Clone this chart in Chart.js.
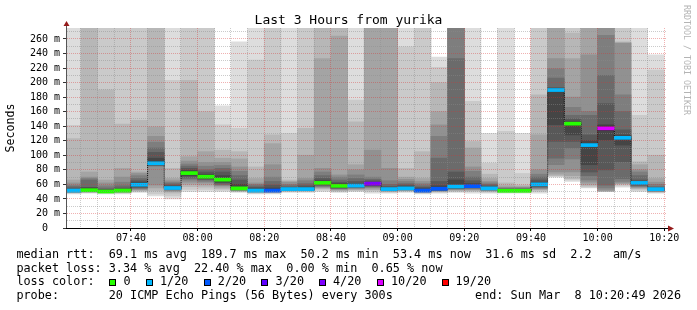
<!DOCTYPE html>
<html>
<head>
<meta charset="utf-8">
<script src="https://cdn.jsdelivr.net/npm/chart.js@4.4.1/dist/chart.umd.min.js"></script>
<style>
  body { margin: 0; background: #fff; }
  #wrap { position: relative; width: 697px; height: 310px; font-family: 'DejaVu Sans Mono', monospace; overflow: hidden; }
  #wrap canvas { position: absolute; left: 0; top: 0; }
  .t { position: absolute; white-space: pre; line-height: 1; color: #000; }
  .leg { font-size: 11.8px; }
  .box { position: absolute; width: 5px; height: 5px; border: 1px solid #000; top: 279px; }
  #rrd { writing-mode: vertical-rl; font-size: 8.3px; line-height: 9px; color: #b4b4b4; left: 682px; top: 5px; }
</style>
</head>
<body>
<div id="wrap">
  <canvas id="grafico" width="697" height="310"></canvas>
  <div class="t" style="left:0;width:697px;text-align:center;top:13px;font-size:13px">Last 3 Hours from yurika</div>
  <div class="t" id="rrd">RRDTOOL / TOBI OETIKER</div>

  <div class="t leg" style="left:16.4px;top:248.7px">median rtt:  69.1 ms avg  189.7 ms max  50.2 ms min  53.4 ms now  31.6 ms sd  2.2   am/s</div>
  <div class="t leg" style="left:16.4px;top:262.5px">packet loss: 3.34 % avg  22.40 % max  0.00 % min  0.65 % now</div>
  <div class="t leg" style="left:16.4px;top:276.2px">loss color:</div>
  <div id="lossLegend"></div>
  <div class="t leg" style="left:16.4px;top:290px">probe:       20 ICMP Echo Pings (56 Bytes) every 300s</div>
  <div class="t leg" style="right:16px;top:290px">end: Sun Mar  8 10:20:49 2026</div>
</div>

<script>
// --- dados (SmokePing, 20 pings a cada 300s) ---

// fim de cada intervalo de 5 minutos
const slotEnd = ['07:25', '07:30', '07:35', '07:40', '07:45', '07:50', '07:55', '08:00', '08:05', '08:10',
                 '08:15', '08:20', '08:25', '08:30', '08:35', '08:40', '08:45', '08:50', '08:55', '09:00',
                 '09:05', '09:10', '09:15', '09:20', '09:25', '09:30', '09:35', '09:40', '09:45', '09:50',
                 '09:55', '10:00', '10:05', '10:10', '10:15', '10:20'];

// pings ordenados (ms), do menor (ping01) ao maior (ping20)
const ping01 = [47, 48, 47, 47, 49, 44, 40, 50, 50, 50, 49, 47, 47, 49, 49, 50, 49, 50, 48, 48, 49, 47, 48, 49, 48, 48, 48, 48, 48, 70, 64, 55, 50, 56, 50, 48];
const ping02 = [48, 48.5, 48, 48, 50, 47, 44, 53, 53, 52, 50, 48, 48, 50, 50, 52, 50, 51, 50, 49, 50, 48, 49, 50, 50, 49, 49, 49, 50, 71, 66, 56, 50, 58, 52, 49];
const ping03 = [48.5, 49, 48.5, 48.5, 51, 51, 48, 57, 56, 54, 50.5, 48.5, 48.5, 50.5, 50.5, 54, 51, 52, 52, 50, 51, 48.5, 50, 51, 51, 50, 49.5, 49.5, 52, 72, 68, 58, 50.5, 60, 54, 49.5];
const ping04 = [49, 49.5, 49, 49, 52, 55, 50, 60, 59, 56, 51, 49, 49, 51, 51, 55, 52, 53, 53, 50.5, 51.5, 49, 50.5, 52, 52, 51, 50, 50, 53, 74, 72, 60, 51, 61, 55, 50];
const ping05 = [49, 50, 49, 49.5, 53, 59, 51, 63, 62, 58, 51.5, 49.5, 49.5, 51.5, 51.5, 56, 53, 54, 55, 51, 52, 49.5, 51, 53, 53, 51.5, 50, 50, 54, 77, 77, 63, 52, 62, 56, 50.5];
const ping06 = [49.5, 50, 49.5, 50, 54, 85, 52, 66, 64, 59, 52, 50, 50, 52, 52, 57, 54, 55, 56, 51.5, 52.5, 50, 51.5, 53.5, 54, 52, 50.5, 50.5, 55, 87, 95, 66, 55, 64, 57, 51];
const ping07 = [50, 50.5, 49.5, 50, 55, 86, 53, 68, 66, 60, 52.5, 50, 50, 52, 52, 58, 54.5, 55.5, 57, 52, 53, 50, 52, 54, 55, 52.5, 50.5, 50.5, 56, 96, 110, 72, 59, 68, 58, 51];
const ping08 = [50, 51, 50, 50.5, 56, 86.5, 53.5, 70, 67, 62, 53, 50.5, 50.5, 52.5, 52.5, 59, 55, 56, 58, 52, 53, 50.5, 52, 54.5, 55.5, 53, 51, 51, 57, 119, 119, 77, 80, 91, 59, 51.5];
const ping09 = [50.5, 51, 50, 51, 57, 87, 54, 72, 68, 63, 53.5, 50.5, 51, 53, 53, 60, 56, 57, 59, 52.5, 53.5, 51, 52.5, 55, 56, 53.5, 51, 51, 58, 142, 128, 87, 121, 114, 60, 51.5];
const ping10 = [51, 51.5, 50, 51, 58, 87, 54.5, 74, 69, 65, 54, 51, 51, 53, 53, 61, 57, 57.5, 60, 53, 54, 51, 53, 56, 57, 54, 51, 51, 59, 188, 142, 112, 134, 122, 61, 52];
const ping11 = [52, 53, 51, 52, 61, 91, 56, 77, 72, 68, 55, 52, 52, 54, 54, 63, 59, 59, 62, 54, 55, 52, 55, 58, 58, 55, 51.5, 51.5, 61, 191, 145, 116, 140, 126, 63, 54];
const ping12 = [53, 55, 52, 53, 63, 96, 57, 79, 74, 72, 60, 54, 55, 55, 56, 65, 61, 61, 63, 55, 57, 54, 58, 66, 61, 56.5, 52, 52, 63, 192, 147, 120, 142, 128, 64, 54.5];
const ping13 = [55, 56, 53, 55, 65, 104, 59, 82, 77, 77, 66, 56, 59, 56, 58, 68, 63, 64, 65, 57, 59, 56, 64, 77, 65, 58, 53, 53, 66, 193, 150, 128, 171, 135, 66, 55.5];
const ping14 = [57, 66, 55, 58, 68, 110, 61, 85, 80, 82, 72, 58, 64, 58, 61, 72, 66, 68, 67, 60, 61, 58, 96, 233, 70, 60, 54, 54, 70, 206, 155, 155, 210, 160, 72, 57];
const ping15 = [59, 68, 58, 63, 72, 118, 63, 88, 85, 86, 78, 60, 70, 60, 65, 77, 70, 73, 70, 65, 64, 61, 126, 280, 78, 62, 55, 55, 74, 219, 166, 160, 265, 183, 77, 60];
const ping16 = [62, 70, 62, 70, 75, 126, 65, 92, 90, 90, 84, 62, 87, 63, 68, 82, 73, 80, 107, 82, 67, 64, 142, 285, 84, 64, 56, 56, 80, 233, 180, 238, 280, 254, 80, 63];
const ping17 = [66, 77, 66, 82, 77, 139, 68, 98, 105, 96, 95, 68, 116, 64, 100, 233, 264, 87, 280, 280, 70, 68, 160, 288, 110, 68, 58, 57, 128, 280, 233, 280, 285, 255, 87, 68];
const ping18 = [123, 280, 190, 143, 148, 285, 82, 203, 160, 107, 105, 84, 128, 66, 137, 285, 285, 146, 285, 285, 82, 105, 200, 291, 119, 74, 62, 59, 183, 285, 268, 285, 290, 256, 91, 100];
const ping19 = [141, 290, 285, 285, 285, 290, 203, 285, 290, 142, 137, 231, 285, 130, 285, 290, 290, 176, 290, 290, 249, 285, 221, 295, 174, 89, 133, 75, 285, 290, 290, 290, 295, 290, 155, 217];
const ping20 = [300, 300, 300, 300, 300, 300, 300, 300, 300, 168, 256, 300, 300, 300, 300, 300, 300, 300, 300, 300, 300, 300, 235, 300, 300, 130, 290, 130, 300, 300, 300, 300, 300, 300, 300, 238];

// mediana (ms) e perda de pacotes (%) por intervalo
const median = [51.5, 52, 50.2, 51.5, 59.5, 89, 55, 75.5, 70.5, 66.5, 54.5, 51.5, 51.5, 53.5, 53.5, 62, 58, 58.3, 61, 53.5,
                54.5, 51.5, 54, 57, 57.5, 54.5, 51.2, 51.2, 60, 189.7, 143.5, 114, 137, 124, 62, 53.4];
const lossPct = [2.5, 0, 0, 0, 3, 5, 2, 0, 0, 0, 0, 1.5, 8, 2.5, 3, 0, 0, 2, 18, 3.5,
                 2.5, 7.5, 9, 4, 8.5, 2.5, 0, 0, 3, 4.5, 0, 2, 22.4, 1.5, 2, 0.65];

// legenda de perda: limite (pings perdidos de 20), rótulo e cor
const lossSteps = [0, 1, 2, 3, 4, 10, 19];
const lossLabels = ['0', '1/20', '2/20', '3/20', '4/20', '10/20', '19/20'];
const lossColors = ['#26ff00', '#00b8ff', '#0059ff', '#5e00ff', '#7e00ff', '#dd00ff', '#ff0000'];

// eixos
const xTickLabels = ['07:40', '08:00', '08:20', '08:40', '09:00', '09:20', '09:40', '10:00', '10:20'];
const yTicks = [0, 20, 40, 60, 80, 100, 120, 140, 160, 180, 200, 220, 240, 260];
const graphEndTime = '10:20:49';

// --- estilo ---
const MONO = "'DejaVu Sans Mono', monospace";
const shades = ['#dddddd', '#cacaca', '#b7b7b7', '#a4a4a4', '#919191', '#7e7e7e', '#6b6b6b', '#585858', '#454545', '#323232'];
const minorGrid = 'rgba(140, 140, 140, 0.45)';
const majorGrid = 'rgba(215, 50, 50, 0.38)';
const yMax = 275;
const medHalf = 2.1;

// --- helpers ---
function toMin(s) {
    const [h, m, sec] = s.split(':').map(Number);
    return h * 60 + m + (sec || 0) / 60;
}
function fmtMin(v) {
    const t = Math.round(v);
    return String(Math.floor(t / 60)).padStart(2, '0') + ':' + String(t % 60).padStart(2, '0');
}
function lossColor(pct) {
    const lost = pct / 5;
    for (let i = 0; i < lossSteps.length; i++) {
        if (lost <= lossSteps[i] + 1e-9) return lossColors[i];
    }
    return lossColors[lossColors.length - 1];
}

const graphEnd = toMin(graphEndTime);
const graphStart = graphEnd - 180;
const slotMid = slotEnd.map(t => toMin(t) - 2.5);
const pings = [ping01, ping02, ping03, ping04, ping05, ping06, ping07, ping08, ping09, ping10,
               ping11, ping12, ping13, ping14, ping15, ping16, ping17, ping18, ping19, ping20];
const yGrid = [];
for (let v = 0; v < yMax; v += 10) yGrid.push(v);

// legenda de cores de perda (HTML)
const lossBoxX = [109, 146, 204, 261, 319, 377, 442];
const lossTextX = [123.6, 160, 217.8, 275.6, 333, 391, 455.6];
const lossLegend = document.getElementById('lossLegend');
lossLabels.forEach((lab, i) => {
    lossLegend.insertAdjacentHTML('beforeend',
        `<div class="box" style="left:${lossBoxX[i]}px;background:${lossColors[i]}"></div>` +
        `<div class="t leg" style="left:${lossTextX[i]}px;top:276.2px">${lab}</div>`);
});

// --- datasets ---
const smokeSets = shades.map((shade, k) => ({
    type: 'bar',
    data: slotMid.map((x, i) => ({ x, y: [pings[k][i], pings[19 - k][i]] })),
    backgroundColor: shade,
    borderWidth: 0,
    grouped: false,
    barPercentage: 1,
    categoryPercentage: 1,
    order: 30 - k
}));

const medianBars = {
    type: 'bar',
    data: slotMid.map((x, i) => ({ x, y: [median[i] - medHalf, median[i] + medHalf] })),
    backgroundColor: lossPct.map(lossColor),
    borderWidth: 0,
    grouped: false,
    barPercentage: 1,
    categoryPercentage: 1,
    order: 1
};

const medianLine = {
    type: 'line',
    data: slotMid.map((x, i) => ({ x, y: median[i] })),
    stepped: 'middle',
    borderColor: '#000',
    borderWidth: 1,
    borderDash: [1, 1],
    pointRadius: 0,
    fill: false,
    order: 2
};

// eixos com setas, como no rrdtool
const axisArrows = {
    id: 'axisArrows',
    afterDraw(chart) {
        const { ctx, chartArea: a } = chart;
        ctx.save();
        ctx.lineWidth = 1;
        ctx.strokeStyle = '#555';
        ctx.beginPath();
        ctx.moveTo(a.left - 0.5, a.bottom);
        ctx.lineTo(a.left - 0.5, a.top - 2);
        ctx.stroke();
        ctx.strokeStyle = '#000';
        ctx.beginPath();
        ctx.moveTo(a.left - 1, a.bottom + 0.5);
        ctx.lineTo(a.right + 1, a.bottom + 0.5);
        ctx.stroke();
        ctx.fillStyle = '#951b1b';
        ctx.beginPath();
        ctx.moveTo(a.left - 0.5, a.top - 7);
        ctx.lineTo(a.left - 3.5, a.top - 2);
        ctx.lineTo(a.left + 2.5, a.top - 2);
        ctx.closePath();
        ctx.fill();
        ctx.beginPath();
        ctx.moveTo(a.right + 7, a.bottom + 0.5);
        ctx.lineTo(a.right + 1, a.bottom - 2.5);
        ctx.lineTo(a.right + 1, a.bottom + 3.5);
        ctx.closePath();
        ctx.fill();
        ctx.restore();
    }
};

new Chart(document.getElementById('grafico'), {
    type: 'bar',
    data: { datasets: [...smokeSets, medianBars, medianLine] },
    plugins: [axisArrows],
    options: {
        responsive: false,
        animation: false,
        devicePixelRatio: 1,
        events: [],
        layout: { padding: { top: 28, right: 30, bottom: 62, left: 0 } },
        plugins: { legend: { display: false }, tooltip: { enabled: false }, title: { display: false } },
        scales: {
            x: {
                type: 'linear',
                min: graphStart,
                max: graphEnd,
                bounds: 'data',
                offset: false,
                afterBuildTicks: s => { s.ticks = slotEnd.map(t => ({ value: toMin(t) })); },
                afterFit: s => { s.height = 20; },
                ticks: {
                    autoSkip: false, maxRotation: 0, minRotation: 0, padding: 1,
                    color: '#000', font: { family: MONO, size: 10 },
                    callback: v => xTickLabels.includes(fmtMin(v)) ? fmtMin(v) : ''
                },
                grid: {
                    z: 1, offset: false, lineWidth: 1, tickLength: 3, borderDash: [1, 1], tickBorderDash: [],
                    color: c => xTickLabels.includes(fmtMin(c.tick.value)) ? majorGrid : minorGrid,
                    tickColor: c => xTickLabels.includes(fmtMin(c.tick.value)) ? '#000' : 'rgba(0,0,0,0)'
                },
                border: { display: false, dash: [1, 1] }
            },
            y: {
                min: 0,
                max: yMax,
                afterBuildTicks: s => { s.ticks = yGrid.map(v => ({ value: v })); },
                afterFit: s => { s.width = 67; },
                ticks: {
                    autoSkip: false, padding: 3, color: '#000', font: { family: MONO, size: 10 },
                    callback: v => yTicks.includes(v) ? (v === 0 ? '0  ' : v + ' m') : ''
                },
                grid: {
                    z: 1, lineWidth: 1, tickLength: 4, borderDash: [1, 1], tickBorderDash: [],
                    color: c => c.tick.value % 20 === 0 ? majorGrid : minorGrid,
                    tickColor: c => yTicks.includes(c.tick.value) ? '#333' : 'rgba(0,0,0,0)'
                },
                border: { display: false, dash: [1, 1] },
                title: {
                    display: true, text: 'Seconds', color: '#000',
                    font: { family: MONO, size: 11.6 }, padding: { top: 4, bottom: 0 }
                }
            }
        }
    }
});
</script>
</body>
</html>
